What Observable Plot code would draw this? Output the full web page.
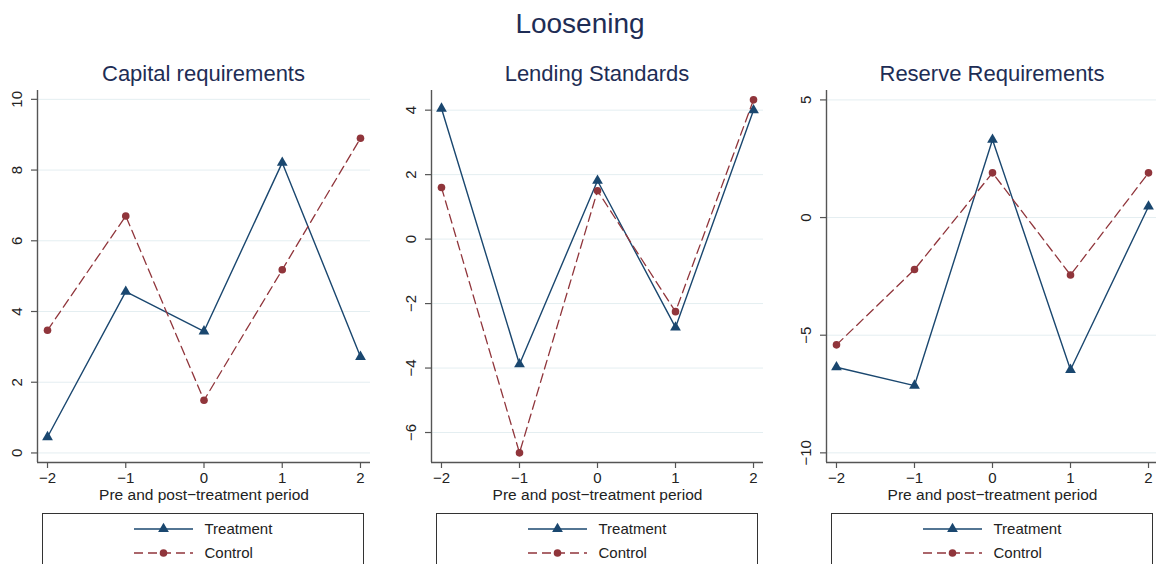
<!DOCTYPE html>
<html><head><meta charset="utf-8">
<script src="https://cdn.jsdelivr.net/npm/d3@7"></script>
<script src="https://cdn.jsdelivr.net/npm/@observablehq/plot@0.6"></script>
<style>
body{margin:0;background:#fff;overflow:hidden;font-family:"Liberation Sans",Arial,Helvetica,sans-serif;}
#root{position:relative;width:1156px;height:564px;overflow:hidden;background:#fff;}
.ttl{position:absolute;text-align:center;color:#1e2d55;line-height:1;white-space:nowrap;}
.legend{position:absolute;border:1.2px solid #333;box-sizing:border-box;background:#fff;}
.lrow{position:absolute;display:flex;align-items:center;height:20px;font-size:15px;color:#222;}
</style></head><body><div id="root"></div>
<script>
// ---- data ----
const periods = [-2, -1, 0, 1, 2];
const panelTitles = ["Capital requirements", "Lending Standards", "Reserve Requirements"];
const capitalTreatment = [0.45, 4.56, 3.44, 8.21, 2.72];
const capitalControl   = [3.47, 6.70, 1.49, 5.18, 8.90];
const lendingTreatment = [4.05, -3.88, 1.81, -2.74, 4.00];
const lendingControl   = [1.60, -6.63, 1.50, -2.25, 4.32];
const reserveTreatment = [-6.36, -7.14, 3.31, -6.47, 0.47];
const reserveControl   = [-5.41, -2.21, 1.90, -2.44, 1.90];
const capitalTicks = [0, 2, 4, 6, 8, 10];
const lendingTicks = [-6, -4, -2, 0, 2, 4];
const reserveTicks = [-10, -5, 0, 5];
const xTicks = [-2, -1, 0, 1, 2];
const seriesNames = ["Treatment", "Control"];
const mainTitle = "Loosening";
const xLabel = "Pre and post\u2212treatment period";

// ---- style / layout ----
const cTreat = "#1a476f", cCtrl = "#90353b", axisCol = "#555", gridCol = "#e4eef1", textCol = "#222";
const fmt = d => (d < 0 ? "\u2212" + Math.abs(d) : String(d));
const root = document.getElementById("root");

const panels = [
  {title: panelTitles[0], t: capitalTreatment, c: capitalControl, ticks: capitalTicks, yDomain: [-0.27, 10.25], left: 0,   marginLeft: 37, width: 380},
  {title: panelTitles[1], t: lendingTreatment, c: lendingControl, ticks: lendingTicks, yDomain: [-6.93, 4.61], left: 380, marginLeft: 51, width: 393},
  {title: panelTitles[2], t: reserveTreatment, c: reserveControl, ticks: reserveTicks, yDomain: [-10.41, 5.40], left: 770, marginLeft: 56, width: 398}
];
const xDomain = [-2.128, 2.128];
const svgTop = 80, marginTop = 10, svgHeight = 430, marginBottom = 48, marginRight = 10;

// main title
const mt = document.createElement("div");
mt.className = "ttl";
mt.style.cssText = "left:0;width:1160px;top:9.6px;font-size:28px;";
mt.textContent = mainTitle;
root.appendChild(mt);

panels.forEach(p => {
  const treat = periods.map((x, i) => ({x, y: p.t[i]}));
  const ctrl = periods.map((x, i) => ({x, y: p.c[i]}));
  const plot = Plot.plot({
    width: p.width, height: svgHeight,
    marginLeft: p.marginLeft, marginRight, marginTop, marginBottom,
    style: {fontSize: "15px", fontFamily: "'Liberation Sans', Arial, sans-serif", background: "transparent", overflow: "visible"},
    x: {domain: xDomain},
    y: {domain: p.yDomain},
    marks: [
      Plot.gridY(p.ticks, {stroke: gridCol, strokeOpacity: 1, strokeWidth: 1}),
      Plot.axisY({ticks: p.ticks, tickSize: 6, tickFormat: () => "", label: null, stroke: axisCol, strokeWidth: 1.2}),
      Plot.axisX({ticks: xTicks, tickSize: 6, tickFormat: () => "", label: null, stroke: axisCol, strokeWidth: 1.2}),
      Plot.ruleX([xDomain[0]], {stroke: axisCol, strokeWidth: 1.4}),
      Plot.ruleY([p.yDomain[0]], {stroke: axisCol, strokeWidth: 1.4}),
      Plot.text(p.ticks, {y: d => d, text: fmt, frameAnchor: "left", textAnchor: "middle", lineAnchor: "middle", dx: -20, rotate: -90, fill: textCol, fontSize: 15}),
      Plot.text(xTicks, {x: d => d, text: fmt, frameAnchor: "bottom", textAnchor: "middle", lineAnchor: "middle", dy: 16, fill: textCol, fontSize: 15}),
      Plot.text([xLabel], {frameAnchor: "bottom", textAnchor: "middle", lineAnchor: "middle", dy: 33, fill: textCol, fontSize: 15.5}),
      Plot.line(treat, {x: "x", y: "y", stroke: cTreat, strokeWidth: 1.4}),
      Plot.dot(treat, {x: "x", y: "y", symbol: "triangle", r: 4, fill: cTreat, stroke: "none"}),
      Plot.line(ctrl, {x: "x", y: "y", stroke: cCtrl, strokeWidth: 1.3, strokeDasharray: "9,5"}),
      Plot.dot(ctrl, {x: "x", y: "y", symbol: "circle", r: 3.8, fill: cCtrl, stroke: "none"})
    ]
  });
  plot.style.position = "absolute";
  plot.style.left = p.left + "px";
  plot.style.top = svgTop + "px";
  root.appendChild(plot);

  const plotLeft = p.left + p.marginLeft;
  const plotW = p.width - p.marginLeft - marginRight;

  // panel title
  const pt = document.createElement("div");
  pt.className = "ttl";
  pt.style.cssText = `left:${plotLeft}px;width:${plotW}px;top:63.1px;font-size:22px;`;
  pt.textContent = p.title;
  root.appendChild(pt);

  // legend
  const lg = document.createElement("div");
  lg.className = "legend";
  lg.style.cssText = `left:${plotLeft + 5}px;top:512.7px;width:322px;height:70px;`;
  root.appendChild(lg);
  const tri = d3.symbol(d3.symbolTriangle, Math.PI * 16)();
  const rows = [
    {name: seriesNames[0], color: cTreat, dash: null, sym: `<path d="${tri}" transform="translate(29.5,6)" fill="${cTreat}"/>`},
    {name: seriesNames[1], color: cCtrl, dash: "9,5", sym: `<circle cx="29.5" cy="6" r="3.8" fill="${cCtrl}"/>`}
  ];
  const contentW = 59 + 12 + 68;
  rows.forEach((r, i) => {
    const row = document.createElement("div");
    row.className = "lrow";
    row.style.left = ((322 - contentW) / 2 - 1) + "px";
    row.style.top = (5.3 + i * 24) + "px";
    row.innerHTML = `<svg width="59" height="12" style="overflow:visible;display:block">
      <line x1="0" x2="59" y1="6" y2="6" stroke="${r.color}" stroke-width="1.4" ${r.dash ? `stroke-dasharray="${r.dash}"` : ""}/>
      ${r.sym}</svg><span style="margin-left:12px">${r.name}</span>`;
    lg.appendChild(row);
  });
});
</script></body></html>
